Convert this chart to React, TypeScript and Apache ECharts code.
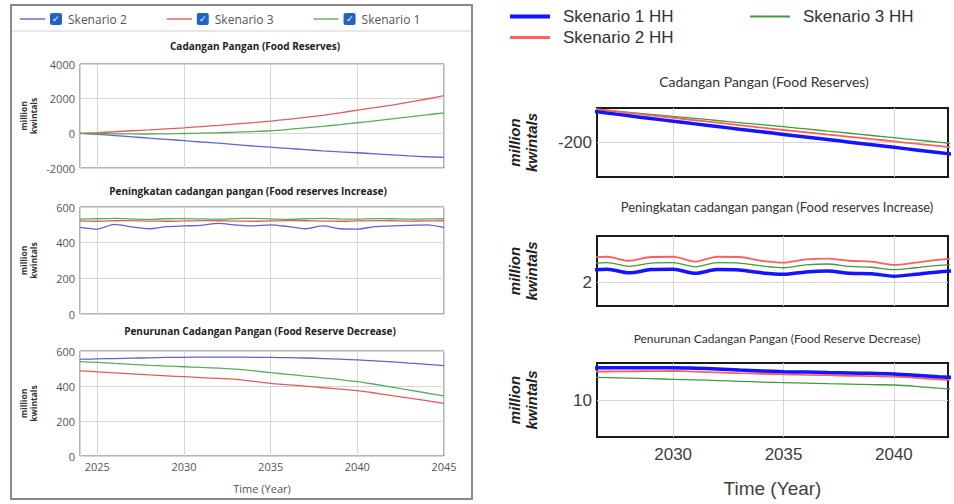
import React, { useEffect, useRef } from 'react';
import * as echarts from 'echarts';

// ---------- data ----------
const LEFT_YEARS = [2024, 2025, 2026, 2027, 2028, 2029, 2030, 2031, 2032, 2033, 2034, 2035, 2036, 2037, 2038, 2039, 2040, 2041, 2042, 2043, 2044, 2045];
const RIGHT_YEARS = [2026, 2027, 2028, 2029, 2030, 2031, 2032, 2033, 2034, 2035, 2036, 2037, 2038, 2039, 2040, 2041, 2042, 2043];

const LEFT_X_TICKS = [2025, 2030, 2035, 2040, 2045];
const RIGHT_X_TICKS = [2030, 2035, 2040];
const R_RES_TICK = -200;
const R_INC_TICK = 2;
const R_DEC_TICK = 10;

// Left: Cadangan Pangan (Food Reserves)
const L_RES_S2 = [0, -60, -130, -200, -280, -350, -420, -500, -570, -650, -730, -800, -870, -940, -1010, -1070, -1120, -1180, -1240, -1300, -1350, -1385];
const L_RES_S3 = [0, 40, 90, 150, 200, 260, 320, 390, 460, 540, 620, 710, 810, 920, 1040, 1180, 1340, 1480, 1630, 1800, 1980, 2170];
const L_RES_S1 = [0, -15, -28, -36, -38, -30, -10, 10, 35, 65, 103, 150, 225, 310, 402, 502, 610, 718, 830, 945, 1063, 1185];

// Left: Peningkatan cadangan pangan (Food reserves Increase)
const L_INC_S2 = [486, 476, 503, 488, 478, 490, 494, 497, 508, 499, 494, 500, 490, 478, 494, 478, 476, 490, 494, 497, 500, 486];
const L_INC_S3 = [522, 520, 523, 524, 521, 520, 522, 524, 523, 521, 520, 522, 524, 523, 521, 520, 522, 524, 523, 521, 522, 523];
const L_INC_S1 = [532, 534, 536, 533, 531, 534, 535, 533, 532, 535, 536, 533, 531, 534, 536, 533, 532, 535, 534, 532, 533, 534];

// Left: Penurunan Cadangan Pangan (Food Reserve Decrease)
const L_DEC_S2 = [553, 555, 557, 559, 561, 563, 564, 565, 565, 565, 564, 563, 562, 560, 557, 553, 549, 544, 538, 531, 524, 516];
const L_DEC_S3 = [486, 481, 475, 469, 463, 458, 453, 448, 443, 438, 427, 415, 407, 399, 390, 382, 373, 360, 345, 331, 316, 301];
const L_DEC_S1 = [539, 535, 529, 523, 518, 514, 510, 506, 502, 497, 487, 476, 467, 457, 447, 436, 425, 410, 394, 377, 360, 343];

// Right: Cadangan Pangan (Food Reserves)
const R_RES_S1HH = [-162.5, -165.8, -169.0, -172.2, -175.3, -178.4, -181.5, -184.6, -187.6, -190.6, -193.6, -196.6, -199.6, -202.6, -205.6, -208.6, -211.6, -214.6];
const R_RES_S2HH = [-160.0, -162.8, -165.7, -168.5, -171.3, -174.2, -177.0, -179.8, -182.7, -185.5, -188.1, -190.8, -193.4, -196.1, -198.7, -201.4, -204.0, -206.7];
const R_RES_S3HH = [-160.2, -162.6, -165.0, -167.4, -169.8, -172.1, -174.5, -176.9, -179.3, -181.7, -184.2, -186.8, -189.3, -191.9, -194.4, -197.0, -199.5, -202.0];

// Right: Peningkatan cadangan pangan (Food reserves Increase)
const R_INC_S1HH = [2.26, 2.29, 2.21, 2.28, 2.29, 2.20, 2.28, 2.27, 2.21, 2.18, 2.23, 2.25, 2.20, 2.19, 2.14, 2.18, 2.23, 2.26];
const R_INC_S2HH = [2.53, 2.555, 2.47, 2.55, 2.555, 2.45, 2.555, 2.55, 2.47, 2.43, 2.50, 2.515, 2.47, 2.45, 2.38, 2.43, 2.49, 2.52];
const R_INC_S3HH = [2.40, 2.43, 2.35, 2.42, 2.43, 2.34, 2.43, 2.42, 2.36, 2.32, 2.38, 2.40, 2.35, 2.33, 2.28, 2.32, 2.37, 2.40];

// Right: Penurunan Cadangan Pangan (Food Reserve Decrease)
const R_DEC_S1HH = [11.73, 11.74, 11.74, 11.75, 11.75, 11.72, 11.68, 11.62, 11.57, 11.53, 11.51, 11.48, 11.46, 11.44, 11.41, 11.34, 11.26, 11.20];
const R_DEC_S2HH = [11.53, 11.54, 11.55, 11.56, 11.57, 11.53, 11.49, 11.45, 11.42, 11.39, 11.36, 11.34, 11.31, 11.29, 11.26, 11.20, 11.12, 11.06];
const R_DEC_S3HH = [11.24, 11.21, 11.18, 11.15, 11.12, 11.09, 11.05, 11.01, 10.97, 10.94, 10.91, 10.88, 10.86, 10.83, 10.81, 10.74, 10.64, 10.56];

const LEFT_NAMES = ['Skenario 2', 'Skenario 3', 'Skenario 1'];
const RIGHT_NAMES = ['Skenario 1 HH', 'Skenario 2 HH', 'Skenario 3 HH'];

const LEFT_TITLES = ['Cadangan Pangan (Food Reserves)', 'Peningkatan cadangan pangan (Food reserves Increase)', 'Penurunan Cadangan Pangan (Food Reserve Decrease)'];
const RIGHT_TITLES = ['Cadangan Pangan (Food Reserves)', 'Peningkatan cadangan pangan (Food reserves Increase)', 'Penurunan Cadangan Pangan (Food Reserve Decrease)'];

// ---------- styles ----------
const LF = 'Open Sans';
const RF = 'Liberation Sans';
const RT = 'Lato';
const L_COLORS = ['#6262d6', '#e25c5c', '#5aae5a'];
const R_COLORS = ['#1414ff', '#ff5e5e', '#3d9c3d'];
const R_WIDTHS = [3.5, 1.8, 1.3];
const T = 'rgba(0,0,0,0)';
const GRIDC = '#d6d6d6';

// legend icons: thin bars inside an invisible bounding box
const L_ICON = 'path://M0,0M0,10M0,4.3L25,4.3L25,5.7L0,5.7Z';
const R_ICONS = [
  'path://M0,0M0,14M0,5L40,5L40,9L0,9Z',
  'path://M0,0M0,14M0,5.5L40,5.5L40,8.5L0,8.5Z',
  'path://M0,0M0,14M0,6L40,6L40,8L0,8Z',
];

function pairs(xs: number[], ys: number[]) {
  return xs.map((x, i) => [x, ys[i]]);
}

function buildOption() {
  const grids = [
    { left: 80, top: 64, width: 364, height: 104 },
    { left: 80, top: 207, width: 364, height: 107 },
    { left: 80, top: 351, width: 364, height: 105 },
    { left: 597, top: 108, width: 351, height: 69 },
    { left: 597, top: 236, width: 351, height: 70 },
    { left: 597, top: 363, width: 351, height: 74 },
  ].map((g, i) => ({
    ...g,
    show: true,
    backgroundColor: '#fff',
    borderColor: i < 3 ? '#6a6a6a' : '#1a1a1a',
    borderWidth: i < 3 ? 1 : 2,
    containLabel: false,
  }));

  const leftX = (gi: number, showLabel: boolean) => ({
    type: 'value', gridIndex: gi, min: 2024, max: 2045, splitNumber: 4,
    axisLine: { show: false }, axisTick: { show: false },
    splitLine: { show: true, lineStyle: { color: GRIDC, width: 1 } },
    axisLabel: {
      show: showLabel, fontFamily: LF, fontSize: 11, color: '#555', margin: 5,
      formatter: (v: number) => (LEFT_X_TICKS.includes(v) ? String(v) : ''),
    },
    name: showLabel ? 'Time (Year)' : '', nameLocation: 'middle', nameGap: 27,
    nameTextStyle: { fontFamily: LF, fontSize: 11, color: '#555' },
  });
  const rightX = (gi: number, showLabel: boolean) => ({
    type: 'value', gridIndex: gi, min: 2026.55, max: 2042.45, splitNumber: 3,
    axisLine: { show: false }, axisTick: { show: false },
    splitLine: { show: true, lineStyle: { color: [T, GRIDC, GRIDC, GRIDC, T], width: 1 } },
    axisLabel: {
      show: showLabel, fontFamily: RF, fontSize: 17, color: '#404040', margin: 9,
      formatter: (v: number) => (RIGHT_X_TICKS.includes(v) ? String(v) : ''),
    },
    name: showLabel ? 'Time (Year)' : '', nameLocation: 'middle', nameGap: 42,
    nameTextStyle: { fontFamily: RF, fontSize: 19, color: '#404040' },
  });

  const leftY = (gi: number, min: number, max: number, interval: number) => ({
    type: 'value', gridIndex: gi, min, max, interval,
    axisLine: { show: false }, axisTick: { show: false },
    splitLine: { show: true, lineStyle: { color: GRIDC, width: 1 } },
    axisLabel: { fontFamily: LF, fontSize: 11, color: '#555', margin: 5, formatter: (v: number) => String(v) },
    name: 'million\nkwintals', nameLocation: 'middle', nameRotate: 90, nameGap: 42,
    nameTextStyle: { fontFamily: LF, fontSize: 8.5, fontWeight: 'bold', color: '#333', lineHeight: 10 },
  });
  const rightY = (gi: number, min: number, max: number, interval: number, tick: number, colors: string[]) => ({
    type: 'value', gridIndex: gi, min, max, interval,
    axisLine: { show: false }, axisTick: { show: false },
    splitLine: { show: true, lineStyle: { color: colors, width: 1 } },
    axisLabel: {
      fontFamily: RF, fontSize: 17, color: '#404040', margin: 5,
      formatter: (v: number) => (Math.abs(v - tick) < 1e-9 ? String(tick) : ''),
    },
    name: 'million\nkwintals', nameLocation: 'middle', nameRotate: 90, nameGap: 57,
    nameTextStyle: { fontFamily: RF, fontSize: 15, fontWeight: 'bold', fontStyle: 'italic', color: '#222', lineHeight: 17 },
  });

  const xAxis = [leftX(0, false), leftX(1, false), leftX(2, true), rightX(3, false), rightX(4, false), rightX(5, true)];
  const yAxis = [
    leftY(0, -2000, 4000, 2000),
    leftY(1, 0, 600, 200),
    leftY(2, 0, 600, 200),
    rightY(3, -240, -160, 40, R_RES_TICK, [T, GRIDC, T]),
    rightY(4, 1.5, 3.0, 0.5, R_INC_TICK, [T, GRIDC, T, T]),
    rightY(5, 8, 12, 2, R_DEC_TICK, [T, GRIDC, T]),
  ];

  const leftData = [
    [L_RES_S2, L_RES_S3, L_RES_S1],
    [L_INC_S2, L_INC_S3, L_INC_S1],
    [L_DEC_S2, L_DEC_S3, L_DEC_S1],
  ];
  const rightData = [
    [R_RES_S1HH, R_RES_S2HH, R_RES_S3HH],
    [R_INC_S1HH, R_INC_S2HH, R_INC_S3HH],
    [R_DEC_S1HH, R_DEC_S2HH, R_DEC_S3HH],
  ];

  const series: any[] = [];
  leftData.forEach((group, gi) => {
    group.forEach((vals, si) => {
      series.push({
        type: 'line', name: LEFT_NAMES[si], xAxisIndex: gi, yAxisIndex: gi,
        data: pairs(LEFT_YEARS, vals), showSymbol: false, symbol: 'none', smooth: 0.3,
        lineStyle: { color: L_COLORS[si], width: 1.3 }, itemStyle: { color: L_COLORS[si] },
        silent: true,
      });
    });
  });
  rightData.forEach((group, gi) => {
    [2, 1, 0].forEach((si) => {
      const vals = group[si];
      series.push({
        type: 'line', name: RIGHT_NAMES[si], xAxisIndex: gi + 3, yAxisIndex: gi + 3,
        data: pairs(RIGHT_YEARS, vals), showSymbol: false, symbol: 'none', smooth: 0.3,
        lineStyle: { color: R_COLORS[si], width: R_WIDTHS[si] }, itemStyle: { color: R_COLORS[si] },
        silent: true, clip: true,
      });
    });
  });

  const title = [
    { text: LEFT_TITLES[0], left: 255, top: 41, fs: 10, ff: LF, fw: 'bold', c: '#222' },
    { text: LEFT_TITLES[1], left: 248, top: 186, fs: 10, ff: LF, fw: 'bold', c: '#222' },
    { text: LEFT_TITLES[2], left: 260, top: 326, fs: 10, ff: LF, fw: 'bold', c: '#222' },
    { text: RIGHT_TITLES[0], left: 764, top: 74, fs: 14, ff: RT, fw: 'normal', c: '#333' },
    { text: RIGHT_TITLES[1], left: 777, top: 200, fs: 13, ff: RT, fw: 'normal', c: '#333' },
    { text: RIGHT_TITLES[2], left: 777, top: 332, fs: 12, ff: RT, fw: 'normal', c: '#333' },
  ].map((t) => ({
    text: t.text, left: t.left, top: t.top, textAlign: 'center', padding: 0,
    textStyle: { fontFamily: t.ff, fontSize: t.fs, fontWeight: t.fw, color: t.c },
  }));

  const leftLegendRich = {
    b: { width: 12, height: 12, backgroundColor: '#1f63c4', borderRadius: 2, color: '#fff', fontSize: 9, align: 'center', lineHeight: 12 },
    t: { fontFamily: LF, fontSize: 12, color: '#555', padding: [0, 0, 0, 6] },
  };
  const rightRich = { a: { fontFamily: RF, fontSize: 17, color: '#333', padding: [0, 0, 0, 8], lineHeight: 20 } };

  const legend = [
    {
      data: LEFT_NAMES.map((n) => ({ name: n, icon: L_ICON })),
      left: 15, top: 8, itemWidth: 25, itemHeight: 10, itemGap: 40,
      selectedMode: false,
      formatter: (name: string) => `{b|✓}{t|${name}}`,
      textStyle: { rich: leftLegendRich },
    },
    {
      data: [{ name: RIGHT_NAMES[0], icon: R_ICONS[0] }, { name: RIGHT_NAMES[1], icon: R_ICONS[1] }],
      orient: 'vertical', left: 505, top: 3,
      itemWidth: 40, itemHeight: 14, itemGap: 4, selectedMode: false,
      formatter: (name: string) => `{a|${name}}`,
      textStyle: { rich: rightRich },
    },
    {
      data: [{ name: RIGHT_NAMES[2], icon: R_ICONS[2] }],
      orient: 'vertical', left: 745, top: 3,
      itemWidth: 40, itemHeight: 14, itemGap: 4, selectedMode: false,
      formatter: (name: string) => `{a|${name}}`,
      textStyle: { rich: rightRich },
    },
  ];

  const graphic = [
    { type: 'rect', shape: { x: 11, y: 5, width: 461, height: 494 }, style: { fill: 'none', stroke: '#8a8a8a', lineWidth: 2 }, z: 100, silent: true },
    { type: 'line', shape: { x1: 12, y1: 31, x2: 471, y2: 31 }, style: { stroke: '#d0d0d0', lineWidth: 1 }, z: 100, silent: true },
  ];

  return {
    animation: false,
    backgroundColor: '#fff',
    textStyle: { fontFamily: RF },
    title, legend, grid: grids, xAxis, yAxis, series, graphic,
  };
}

export default function App() {
  const ref = useRef<HTMLDivElement>(null);
  useEffect(() => {
    document.body.style.margin = '0';
    const chart = echarts.init(ref.current!, null, { renderer: 'svg' });
    chart.setOption(buildOption() as any);
    return () => chart.dispose();
  }, []);
  return <div ref={ref} style={{ width: 954, height: 504 }} />;
}
